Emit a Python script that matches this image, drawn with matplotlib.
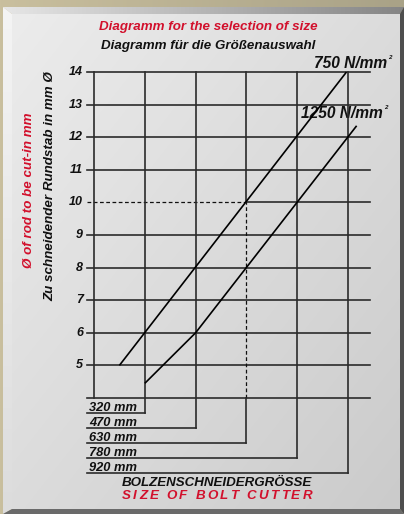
import numpy as np
import matplotlib
matplotlib.use("Agg")
import matplotlib.pyplot as plt
from matplotlib.patches import Polygon
from matplotlib.font_manager import FontProperties, findfont
from matplotlib.ft2font import FT2Font

# ---------------- data ----------------
y_ticks = [5, 6, 7, 8, 9, 10, 11, 12, 13, 14]
size_labels = ["320 mm", "470 mm", "630 mm", "780 mm", "920 mm"]
size_cols = [1, 2, 3, 4, 5]
line750_x = [0.5, 4.97]
line750_y = [5.0, 14.0]
line1250_x = [1.0, 2.0, 5.17]
line1250_y = [4.45, 6.0, 12.35]
ref_diam = 10
ref_col = 3

# ---------------- layout ----------------
W, H = 404, 514
X0, CW = 94.0, 50.8      # px of col 0, px per column
Y14, RH = 72.0, 32.6     # px of value 14, px per unit
RED = "#d2102c"
INK = "#111111"
GRID = "#2b2b2b"
FONT = "Liberation Sans"

fig = plt.figure(figsize=(W / 100, H / 100), dpi=100)
fig.patch.set_facecolor("#bdb497")

# background axes in pixel coordinates
bg = fig.add_axes([0, 0, 1, 1])
bg.set_xlim(0, W)
bg.set_ylim(H, 0)
bg.axis("off")

def grad_poly(pts, c0, c1, direction="diag"):
    poly = Polygon(pts, closed=True, facecolor="none", edgecolor="none")
    bg.add_patch(poly)
    xs = [p[0] for p in pts]; ys = [p[1] for p in pts]
    n = 200
    u = np.linspace(0, 1, n)
    if direction == "diag":
        g = (u[None, :] + u[:, None]) / 2
    elif direction == "h":
        g = np.tile(u, (n, 1))
    else:
        g = np.tile(u[:, None], (1, n))
    c0 = np.array(matplotlib.colors.to_rgb(c0)); c1 = np.array(matplotlib.colors.to_rgb(c1))
    img = c0[None, None, :] * (1 - g[..., None]) + c1[None, None, :] * g[..., None]
    im = bg.imshow(img, extent=(min(xs), max(xs), max(ys), min(ys)), origin="upper",
                   aspect="auto", interpolation="bilinear", zorder=1)
    im.set_clip_path(poly)

# outer beige texture band (simple gradient)
grad_poly([(0, 0), (W, 0), (W, H), (0, H)], "#c9bf9e", "#a9a287", "h")
# bevel frame
grad_poly([(3, 7), (W, 7), (400, 14), (12, 14)], "#e6e6e6", "#858585", "h")
grad_poly([(3, 7), (12, 14), (12, 509), (3, 514)], "#f4f4f4", "#dcdcdc", "v")
bg.add_patch(Polygon([(W, 7), (W, H), (400, 509), (400, 14)], closed=True,
                     facecolor="#4e4e4e", edgecolor="none", zorder=2))
bg.add_patch(Polygon([(3, H), (W, H), (400, 509), (12, 509)], closed=True,
                     facecolor="#6a6a6a", edgecolor="none", zorder=2))
# inner panel
grad_poly([(12, 14), (400, 14), (400, 509), (12, 509)], "#ececec", "#cbcbcb", "diag")

# main axes in data coordinates (col units / diameter)
ax = fig.add_axes([0, 0, 1, 1])
ax.patch.set_alpha(0)
ax.set_xlim(-X0 / CW, (W - X0) / CW)
ax.set_ylim(14 - (H - Y14) / RH, 14 + Y14 / RH)
ax.axis("off")

xl = -7 / CW            # left start of horizontal lines (tick stub)
xr = (370 - X0) / CW    # right end of horizontal grid lines
lw_grid = 1.2
lw_line = 1.2

# horizontal grid lines 4..14
for v in range(4, 15):
    if v == ref_diam:
        ax.plot([xl, ref_col], [v, v], color=INK, lw=0.9, ls=(0, (3, 2)), zorder=3)
        ax.plot([ref_col, xr], [v, v], color=GRID, lw=lw_grid, zorder=3)
    else:
        ax.plot([xl, xr], [v, v], color=GRID, lw=lw_grid, zorder=3)

# vertical grid lines and size rows
row_step = 15 / RH
ax.plot([0, 0], [4, 14], color=GRID, lw=lw_grid, zorder=3)
for i, (c, lab) in enumerate(zip(size_cols, size_labels)):
    yb = 4 - row_step * (i + 1)
    if c == ref_col:
        ax.plot([c, c], [ref_diam, 14], color=GRID, lw=lw_grid, zorder=3)
        ax.plot([c, c], [4, ref_diam], color=INK, lw=0.9, ls=(0, (3, 2)), zorder=3)
        ax.plot([c, c], [yb, 4], color=GRID, lw=lw_grid, zorder=3)
    else:
        ax.plot([c, c], [yb, 14], color=GRID, lw=lw_grid, zorder=3)
    ax.plot([xl, c], [yb, yb], color=GRID, lw=lw_grid, zorder=3)
    ax.text(-5 / CW, yb + 2 / RH, lab, ha="left", va="baseline", fontsize=9.3,
            family=FONT, weight="bold", style="italic", color=INK, zorder=4)

# strength lines
ax.plot(line750_x, line750_y, color="black", lw=lw_line, zorder=4, solid_capstyle="butt")
ax.plot(line1250_x, line1250_y, color="black", lw=lw_line, zorder=4, solid_capstyle="butt")

# y tick labels
for v in y_ticks:
    ax.text(-11 / CW, v, str(v), ha="right", va="center", fontsize=9, family=FONT,
            weight="bold", style="italic", color=INK, zorder=4)

# texts in pixel coords
def btext(x, y, s, color=INK, size=9.6, **kw):
    bg.text(x, y, s, color=color, fontsize=size, family=FONT, weight="bold",
            style="italic", zorder=5, **kw)

btext(208, 27, "Diagramm for the selection of size", color=RED, ha="center", va="center")
btext(208, 46.5, "Diagramm für die Größenauswahl", ha="center", va="center")
btext(387, 68, "750 N/mm", size=11.2, ha="right", va="baseline")
btext(388.5, 59, "2", size=4.5, ha="left", va="baseline")
btext(383, 118, "1250 N/mm", size=11.2, ha="right", va="baseline")
btext(384.5, 109, "2", size=4.5, ha="left", va="baseline")
btext(29, 190, "Ø of rod to be cut-in mm", color=RED, rotation=90, ha="center", va="center",
      rotation_mode="anchor")
btext(50.5, 186, "Zu schneidender Rundstab in mm Ø", rotation=90, ha="center", va="center",
      rotation_mode="anchor")
btext(217, 483, "BOLZENSCHNEIDERGRÖSSE", ha="center", va="center")

# letter-spaced red bottom title
s = "SIZE OF BOLT CUTTER"
fp = FontProperties(family=FONT, weight="bold", style="italic", size=9.6)
ft = FT2Font(findfont(fp))
ft.set_size(9.6, 100)
adv = [ft.load_char(ord(ch)).linearHoriAdvance / 65536 for ch in s]
target = 190.0
extra = (target - sum(adv[:-1]) - adv[-1]) / (len(s) - 1)
x = 122.0
for ch, a in zip(s, adv):
    if ch != " ":
        bg.text(x, 496, ch, color=RED, fontsize=9.6, family=FONT, weight="bold",
                style="italic", ha="left", va="center", zorder=5)
    x += a + extra

fig.savefig("out.png", dpi=100, facecolor=fig.get_facecolor())
